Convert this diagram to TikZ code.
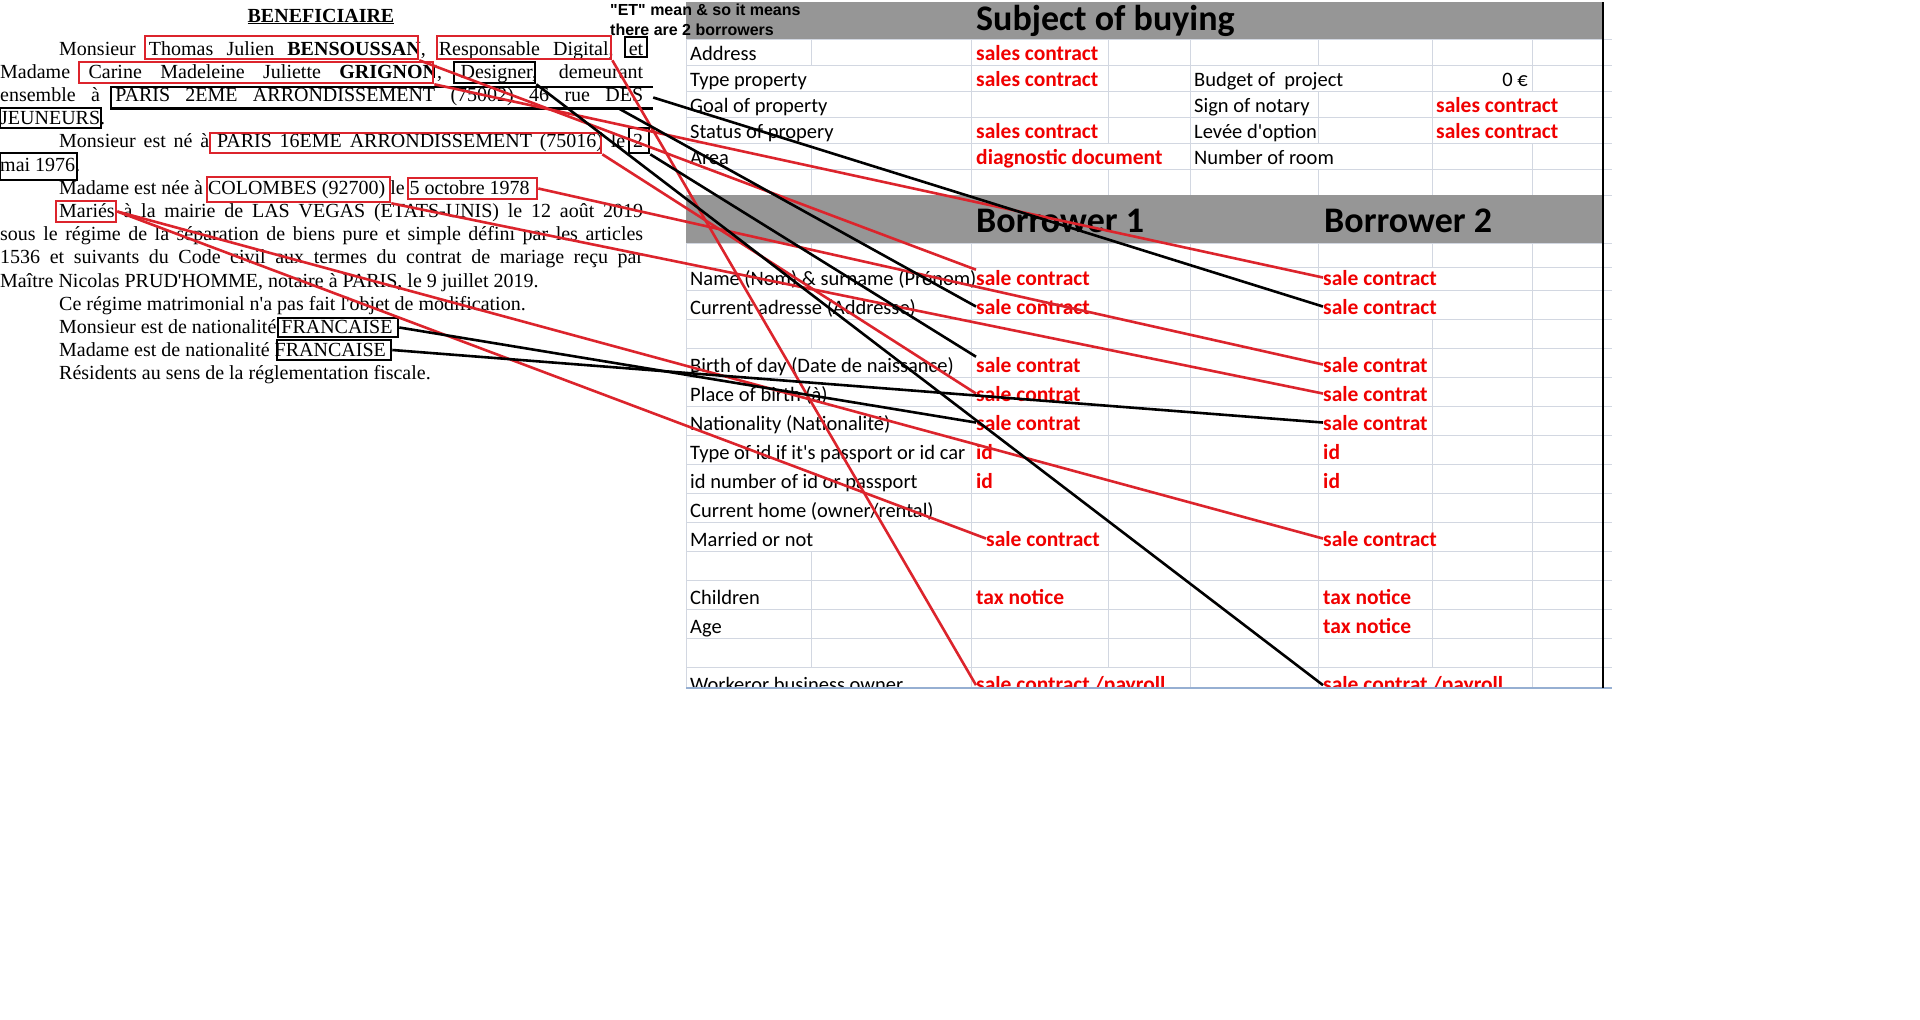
\documentclass[tikz,border=0pt]{standalone}
\usepackage{fontspec}
\newfontfamily\tnr{Liberation Serif}
\newfontfamily\xls{Carlito}
\newfontfamily\arl{Liberation Sans}
\usetikzlibrary{fit}
\definecolor{boxred}{RGB}{220,36,44}
\definecolor{srcred}{RGB}{240,0,0}
\definecolor{hdrgray}{RGB}{150,150,150}
\definecolor{gridc}{RGB}{210,215,225}
\definecolor{botblue}{RGB}{150,175,210}

\begin{document}
\begin{tikzpicture}[x=1pt,y=-1pt,
    doc/.style={anchor=base west,inner sep=0,font=\tnr\fontsize{20}{23}\selectfont},
    lbl/.style={anchor=base west,inner sep=0,font=\xls\fontsize{20.5}{24}\selectfont},
    src/.style={anchor=base west,inner sep=0,text=srcred,font=\xls\bfseries\fontsize{21.5}{24}\selectfont},
    hdr/.style={anchor=base west,inner sep=0,font=\xls\bfseries\fontsize{36}{40}\selectfont},
    note/.style={anchor=base west,inner sep=0,font=\arl\bfseries\fontsize{16}{19}\selectfont},
    rbox/.style={draw=boxred,line width=2.6,inner sep=0},
    kbox/.style={draw=black,line width=2.6,inner sep=0},
    gridln/.style={draw=gridc,line width=1},
    rlink/.style={draw=boxred,line width=2.6},
    klink/.style={draw=black,line width=2.6}]
    \fill[white] (0,0) rectangle (1920,1020);
    \useasboundingbox (0,0) rectangle (1920,1020);

    \begin{scope}
        \clip (684,0) rectangle (1615,688);
        \foreach \y in {39,65,91,117,143,169,195,243,267,290,319,348,377,406,435,464,493,522,551,580,609,638,667}
            \draw[gridln] (686,\y) -- (1612,\y);
        \draw[gridln] (686,39) -- (686,195) (686,243) -- (686,688);
        \foreach \yt/\yb/\xs in {39/65/{811,971,1108,1190,1318,1432,1532},65/91/{971,1108,1190,1432,1532},
            91/117/{971,1108,1190,1318,1432},117/143/{971,1108,1190,1318,1432},143/169/{811,971,1190,1432,1532},
            169/195/{811,971,1108,1190,1318,1432,1532},243/267/{811,971,1108,1190,1318,1432,1532},
            267/290/{1108,1190,1318,1532},290/319/{971,1108,1190,1318,1532},319/348/{811,971,1108,1190,1318,1432,1532},
            348/551/{971,1108,1190,1318,1432,1532},551/667/{811,971,1108,1190,1318,1432,1532},667/688/{971,1190,1318,1532}}
            \foreach \x in \xs \draw[gridln] (\x,\yt) -- (\x,\yb);
        \fill[hdrgray] (686,2) rectangle (1603,39);
        \fill[hdrgray] (686,195) rectangle (1603,243);
        \node[hdr] (h_subj) at (976,30) {Subject of buying};
        \node[hdr] (h_b1) at (976,232) {Borrower 1};
        \node[hdr] (h_b2) at (1324,232) {Borrower 2};

        \node[lbl] (r_addr) at (690,60) {Address};
        \node[src] (s_addr) at (976,60) {sales contract};
        \node[lbl] (r_type) at (690,86) {Type property};
        \node[src] (s_type) at (976,86) {sales contract};
        \node[lbl] (r_budg) at (1194,86) {Budget of\ \ project};
        \node[lbl,anchor=base east] (v_budg) at (1528,86) {0 €};
        \node[lbl] (r_goal) at (690,112) {Goal of property};
        \node[lbl] (r_sign) at (1194,112) {Sign of notary};
        \node[src] (s_sign) at (1436,112) {sales contract};
        \node[lbl] (r_stat) at (690,138) {Status of propery};
        \node[src] (s_stat) at (976,138) {sales contract};
        \node[lbl] (r_levee) at (1194,138) {Levée d'option};
        \node[src] (s_levee) at (1436,138) {sales contract};
        \node[lbl] (r_area) at (690,164) {Area};
        \node[src] (s_area) at (976,164) {diagnostic document};
        \node[lbl] (r_room) at (1194,164) {Number of room};

        \node[lbl] (r_nom) at (690,285) {Name (Nom) \& surname (Prénom)};
        \node[src] (b1_nom) at (976,285) {sale contract};
        \node[src] (b2_nom) at (1323,285) {sale contract};
        \node[lbl] (r_adr) at (690,314) {Current adresse (Addresse)};
        \node[src] (b1_adr) at (976,314) {sale contract};
        \node[src] (b2_adr) at (1323,314) {sale contract};
        \node[lbl] (r_dob) at (690,372) {Birth of day (Date de naissance)};
        \node[src] (b1_dob) at (976,372) {sale contrat};
        \node[src] (b2_dob) at (1323,372) {sale contrat};
        \node[lbl] (r_pob) at (690,401) {Place of birth (à)};
        \node[src] (b1_pob) at (976,401) {sale contrat};
        \node[src] (b2_pob) at (1323,401) {sale contrat};
        \node[lbl] (r_nat) at (690,430) {Nationality (Nationalité)};
        \node[src] (b1_nat) at (976,430) {sale contrat};
        \node[src] (b2_nat) at (1323,430) {sale contrat};
        \node[lbl] (r_idt) at (690,459) {Type of id if it's passport or id car};
        \node[src] (b1_idt) at (976,459) {id};
        \node[src] (b2_idt) at (1323,459) {id};
        \node[lbl] (r_idn) at (690,488) {id number of id or passport};
        \node[src] (b1_idn) at (976,488) {id};
        \node[src] (b2_idn) at (1323,488) {id};
        \node[lbl] (r_home) at (690,517) {Current home (owner/rental)};
        \node[lbl] (r_mar) at (690,546) {Married or not};
        \node[src] (b1_mar) at (986,546) {sale contract};
        \node[src] (b2_mar) at (1323,546) {sale contract};
        \node[lbl] (r_kid) at (690,604) {Children};
        \node[src] (b1_kid) at (976,604) {tax notice};
        \node[src] (b2_kid) at (1323,604) {tax notice};
        \node[lbl] (r_age) at (690,633) {Age};
        \node[src] (b2_age) at (1323,633) {tax notice};
        \node[lbl] (r_job) at (690,691) {Workeror business owner};
        \node[src] (b1_job) at (976,691) {sale contract /payroll};
        \node[src] (b2_job) at (1323,691) {sale contrat /payroll};
    \end{scope}
    \draw[botblue,line width=1.6] (686,688) -- (1612,688);
    \draw[line width=2.5] (1603,2) -- (1603,688);

    \node[doc,anchor=base,font=\tnr\bfseries\fontsize{20}{23}\selectfont] (title) at (321,22) {\underline{BENEFICIAIRE}};
    \node[doc] (l_1) at (59,55) {\makebox[584pt][s]{Monsieur Thomas Julien \textbf{BENSOUSSAN}, Responsable Digital, et}};
    \node[doc] (l_2) at (0,78.2) {\makebox[643pt][s]{Madame Carine Madeleine Juliette \textbf{GRIGNON}, Designer, demeurant}};
    \node[doc] (l_3) at (0,101.4) {\makebox[643pt][s]{ensemble à PARIS 2EME ARRONDISSEMENT (75002) 46 rue DES}};
    \node[doc] (l_4) at (0,124.6) {JEUNEURS.};
    \node[doc] (l_5) at (59,147.8) {\makebox[584pt][s]{Monsieur est né à PARIS 16EME ARRONDISSEMENT (75016) le 2}};
    \node[doc] (l_6) at (0,171) {mai 1976.};
    \node[doc] (l_7) at (59,194.2) {Madame est née à COLOMBES (92700) le 5 octobre 1978};
    \node[doc] (l_8) at (59,217.4) {\makebox[584pt][s]{Mariés à la mairie de LAS VEGAS (ETATS-UNIS) le 12 août 2019}};
    \node[doc] (l_9) at (0,240.6) {\makebox[643pt][s]{sous le régime de la séparation de biens pure et simple défini par les articles}};
    \node[doc] (l_10) at (0,263.8) {\makebox[643pt][s]{1536 et suivants du Code civil aux termes du contrat de mariage reçu par}};
    \node[doc] (l_11) at (0,287) {Maître Nicolas PRUD'HOMME, notaire à PARIS, le 9 juillet 2019.};
    \node[doc] (l_12) at (59,310.2) {Ce régime matrimonial n'a pas fait l'objet de modification.};
    \node[doc] (l_13) at (59,333.4) {Monsieur est de nationalité FRANCAISE};
    \node[doc] (l_14) at (59,356.6) {Madame est de nationalité FRANCAISE};
    \node[doc] (l_15) at (59,379.8) {Résidents au sens de la réglementation fiscale.};

    \node[note] (n_1) at (610,15) {"ET" mean \& so it means};
    \node[note] (n_2) at (610,35) {there are 2 borrowers};

    \node[rbox,fit={(145,36) (418,59)}] (b_nom1) {};
    \node[rbox,fit={(437,36) (611,59)}] (b_job1) {};
    \node[kbox,fit={(625,37) (647,57)}] (b_et) {};
    \node[rbox,fit={(79,62) (433,83)}] (b_nom2) {};
    \node[kbox,fit={(454,62) (535,83)}] (b_job2) {};
    \node[inner sep=0,fit={(111,87) (653,108)}] (b_adr) {};
    \draw[line width=2.6] (b_adr.north east) -- (b_adr.north west) -- (b_adr.south west) -- (b_adr.south east);
    \node[kbox,fit={(0,108) (101,128)}] (b_adr2) {};
    \node[rbox,fit={(210,133) (601,153)}] (b_pob1) {};
    \node[kbox,fit={(629,128) (649,153)}] (b_dob1) {};
    \node[kbox,fit={(0,153) (77,180)}] (b_dob1b) {};
    \node[rbox,fit={(207,177) (390,202)}] (b_pob2) {};
    \node[rbox,fit={(408,178) (537,199)}] (b_dob2) {};
    \node[rbox,fit={(56,201) (116,222)}] (b_mar) {};
    \node[kbox,fit={(278,318) (398,337)}] (b_nat1) {};
    \node[kbox,fit={(277,340) (391,360)}] (b_nat2) {};

    \path[rlink]
        (b_nom1.south east) edge (b1_nom.north west)
        (b_nom2.south east) edge (b2_nom.west)
        (b_job1.south east) edge (b1_job.west)
        (b_dob2.east) edge (b2_dob.west)
        (b_pob1.south east) edge (b1_pob.west)
        (b_pob2.south east) edge (b2_pob.west)
        (b_mar.east) edge (b1_mar.west)
        (b_mar.east) edge (b2_mar.west);
    \path[klink]
        (b_adr.east) edge (b2_adr.west)
        ([xshift=-35]b_adr.south east) edge (b1_adr.west)
        (b_job2.south east) edge (b2_job.west)
        (b_dob1.south east) edge (b1_dob.north west)
        (b_nat1.east) edge (b1_nat.west)
        (b_nat2.east) edge (b2_nat.west);
\end{tikzpicture}
\end{document}
